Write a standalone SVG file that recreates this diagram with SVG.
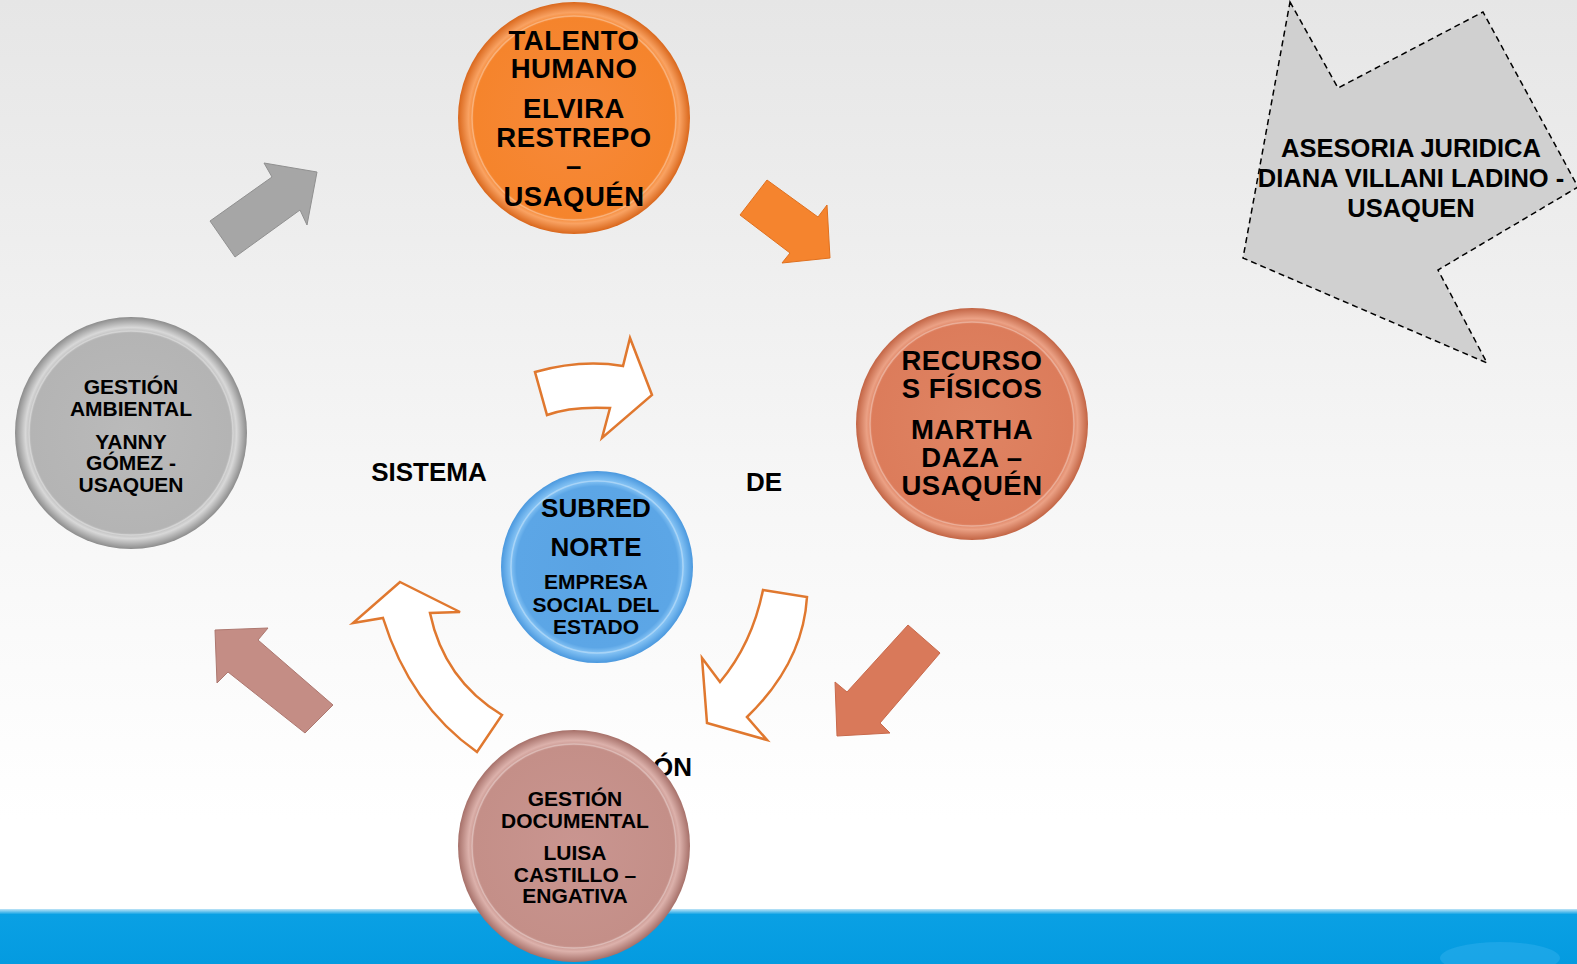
<svg xmlns="http://www.w3.org/2000/svg" width="1577" height="964" viewBox="0 0 1577 964">
<defs>
<linearGradient id="bg" x1="0" y1="0" x2="0" y2="1">
<stop offset="0" stop-color="#e6e6e6"/>
<stop offset="0.5" stop-color="#f6f6f6"/>
<stop offset="0.85" stop-color="#ffffff"/>
</linearGradient>
<linearGradient id="band" x1="0" y1="0" x2="0" y2="1">
<stop offset="0" stop-color="#bfe4f7"/>
<stop offset="0.1" stop-color="#0aa0e4"/>
<stop offset="1" stop-color="#049be0"/>
</linearGradient>
<radialGradient id="gOrange" cx="0.5" cy="0.5" r="0.5">
<stop offset="0" stop-color="#f7893a"/>
<stop offset="0.86" stop-color="#f5842c"/>
<stop offset="0.91" stop-color="#f9a262"/>
<stop offset="1" stop-color="#d9671c"/>
</radialGradient>
<radialGradient id="gCopper" cx="0.5" cy="0.5" r="0.5">
<stop offset="0" stop-color="#df8463"/>
<stop offset="0.86" stop-color="#dc7c5b"/>
<stop offset="0.91" stop-color="#eba185"/>
<stop offset="1" stop-color="#c26444"/>
</radialGradient>
<radialGradient id="gGray" cx="0.5" cy="0.5" r="0.5">
<stop offset="0" stop-color="#bababa"/>
<stop offset="0.86" stop-color="#b4b4b4"/>
<stop offset="0.91" stop-color="#d8d8d8"/>
<stop offset="1" stop-color="#8c8c8c"/>
</radialGradient>
<radialGradient id="gRose" cx="0.5" cy="0.5" r="0.5">
<stop offset="0" stop-color="#c99590"/>
<stop offset="0.86" stop-color="#c48f88"/>
<stop offset="0.91" stop-color="#dcb1ab"/>
<stop offset="1" stop-color="#a67069"/>
</radialGradient>
<radialGradient id="gBlue" cx="0.5" cy="0.5" r="0.5">
<stop offset="0" stop-color="#5aa3e3"/>
<stop offset="0.84" stop-color="#5ca6e6"/>
<stop offset="0.9" stop-color="#86c4f5"/>
<stop offset="1" stop-color="#4a98de"/>
</radialGradient>
<style>
.t{font-family:"Liberation Sans",Arial,sans-serif;font-weight:bold;fill:#000;text-anchor:middle}
.big{font-size:27.5px;letter-spacing:0.5px}
.curved{fill:#ffffff;stroke:#e0782f;stroke-width:2.5;stroke-linejoin:miter}
.ring{fill:none;stroke:#ffffff;stroke-opacity:0.3;stroke-width:1.5}
</style>
</defs>

<rect x="0" y="0" width="1577" height="964" fill="url(#bg)"/>
<rect x="0" y="909" width="1577" height="55" fill="url(#band)"/>
<ellipse cx="1500" cy="958" rx="60" ry="16" fill="#2fb0ee" opacity="0.5"/>

<text class="t" x="429" y="481" font-size="26">SISTEMA</text>
<text class="t" x="764" y="491" font-size="26">DE</text>
<text class="t" x="692" y="776" font-size="26" style="text-anchor:end">ÓN</text>

<g id="connectors">
<polygon points="210,221 272,177 264,163 317,172 307,225 300,210 235,257" fill="#a6a6a6" stroke="#909090" stroke-width="1"/>
<polygon points="767,180 818,217 827,205 830,258 782,263 790,253 740,215" fill="#f5842e" stroke="#e0701e" stroke-width="1"/>
<polygon points="908,625 940,653 880,723 890,733 837,736 835,682 847,692" fill="#d9795a" stroke="#c86a4c" stroke-width="1"/>
<polygon points="215,630 268,628 258,640 333,705 305,733 228,672 217,683" fill="#c48d85" stroke="#ad7870" stroke-width="1"/>
<path class="curved" d="M535,372 Q581,359 623,366 L630,338 L652,395 L602,438 L610,408 Q571,406 547,415 Z"/>
<path class="curved" d="M763,590 L807,597 Q803,663 747,717 L767,740 L707,723 L702,658 L720,682 Q752,644 763,590 Z"/>
<path class="curved" d="M400,582 L460,612 L430,613 Q444,680 502,715 L477,752 Q410,705 383,618 L353,623 Z"/>
</g>

<g id="node-talento">
<circle cx="574" cy="118" r="116" fill="url(#gOrange)"/>
<circle cx="574" cy="118" r="102" class="ring"/>
<text class="t big" x="574" y="50">TALENTO</text>
<text class="t big" x="574" y="78">HUMANO</text>
<text class="t big" x="574" y="118">ELVIRA</text>
<text class="t big" x="574" y="147">RESTREPO</text>
<text class="t big" x="574" y="175">–</text>
<text class="t big" x="574" y="206">USAQUÉN</text>
</g>

<g id="node-recursos">
<circle cx="972" cy="424" r="116" fill="url(#gCopper)"/>
<circle cx="972" cy="424" r="102" class="ring"/>
<text class="t big" x="972" y="370">RECURSO</text>
<text class="t big" x="972" y="398">S FÍSICOS</text>
<text class="t big" x="972" y="439">MARTHA</text>
<text class="t big" x="972" y="467">DAZA –</text>
<text class="t big" x="972" y="495">USAQUÉN</text>
</g>

<g id="node-ambiental">
<circle cx="131" cy="433" r="116" fill="url(#gGray)"/>
<circle cx="131" cy="433" r="102" class="ring"/>
<text class="t" x="131" y="394" font-size="21">GESTIÓN</text>
<text class="t" x="131" y="416" font-size="21">AMBIENTAL</text>
<text class="t" x="131" y="449" font-size="21">YANNY</text>
<text class="t" x="131" y="470" font-size="21">GÓMEZ -</text>
<text class="t" x="131" y="492" font-size="21">USAQUEN</text>
</g>

<g id="node-documental">
<circle cx="574" cy="846" r="116" fill="url(#gRose)"/>
<circle cx="574" cy="846" r="102" class="ring"/>
<text class="t" x="575" y="806" font-size="21">GESTIÓN</text>
<text class="t" x="575" y="828" font-size="21">DOCUMENTAL</text>
<text class="t" x="575" y="860" font-size="21">LUISA</text>
<text class="t" x="575" y="882" font-size="21">CASTILLO –</text>
<text class="t" x="575" y="903" font-size="21">ENGATIVA</text>
</g>

<g id="node-subred">
<circle cx="597" cy="567" r="96" fill="url(#gBlue)"/>
<circle cx="597" cy="567" r="86" class="ring"/>
<text class="t" x="596" y="517" font-size="26">SUBRED</text>
<text class="t" x="596" y="556" font-size="26">NORTE</text>
<text class="t" x="596" y="589" font-size="21">EMPRESA</text>
<text class="t" x="596" y="612" font-size="21">SOCIAL DEL</text>
<text class="t" x="596" y="634" font-size="21">ESTADO</text>
</g>

<g id="node-asesoria">
<polygon points="1290,2 1338,88 1483,12 1578,187 1438,270 1487,363 1243,258" fill="#d0d0d0" stroke="#000" stroke-width="1.5" stroke-dasharray="6,4"/>
<text class="t" x="1411" y="157" font-size="25.5">ASESORIA JURIDICA</text>
<text class="t" x="1411" y="187" font-size="25.5">DIANA VILLANI LADINO -</text>
<text class="t" x="1411" y="217" font-size="25.5">USAQUEN</text>
</g>
</svg>
